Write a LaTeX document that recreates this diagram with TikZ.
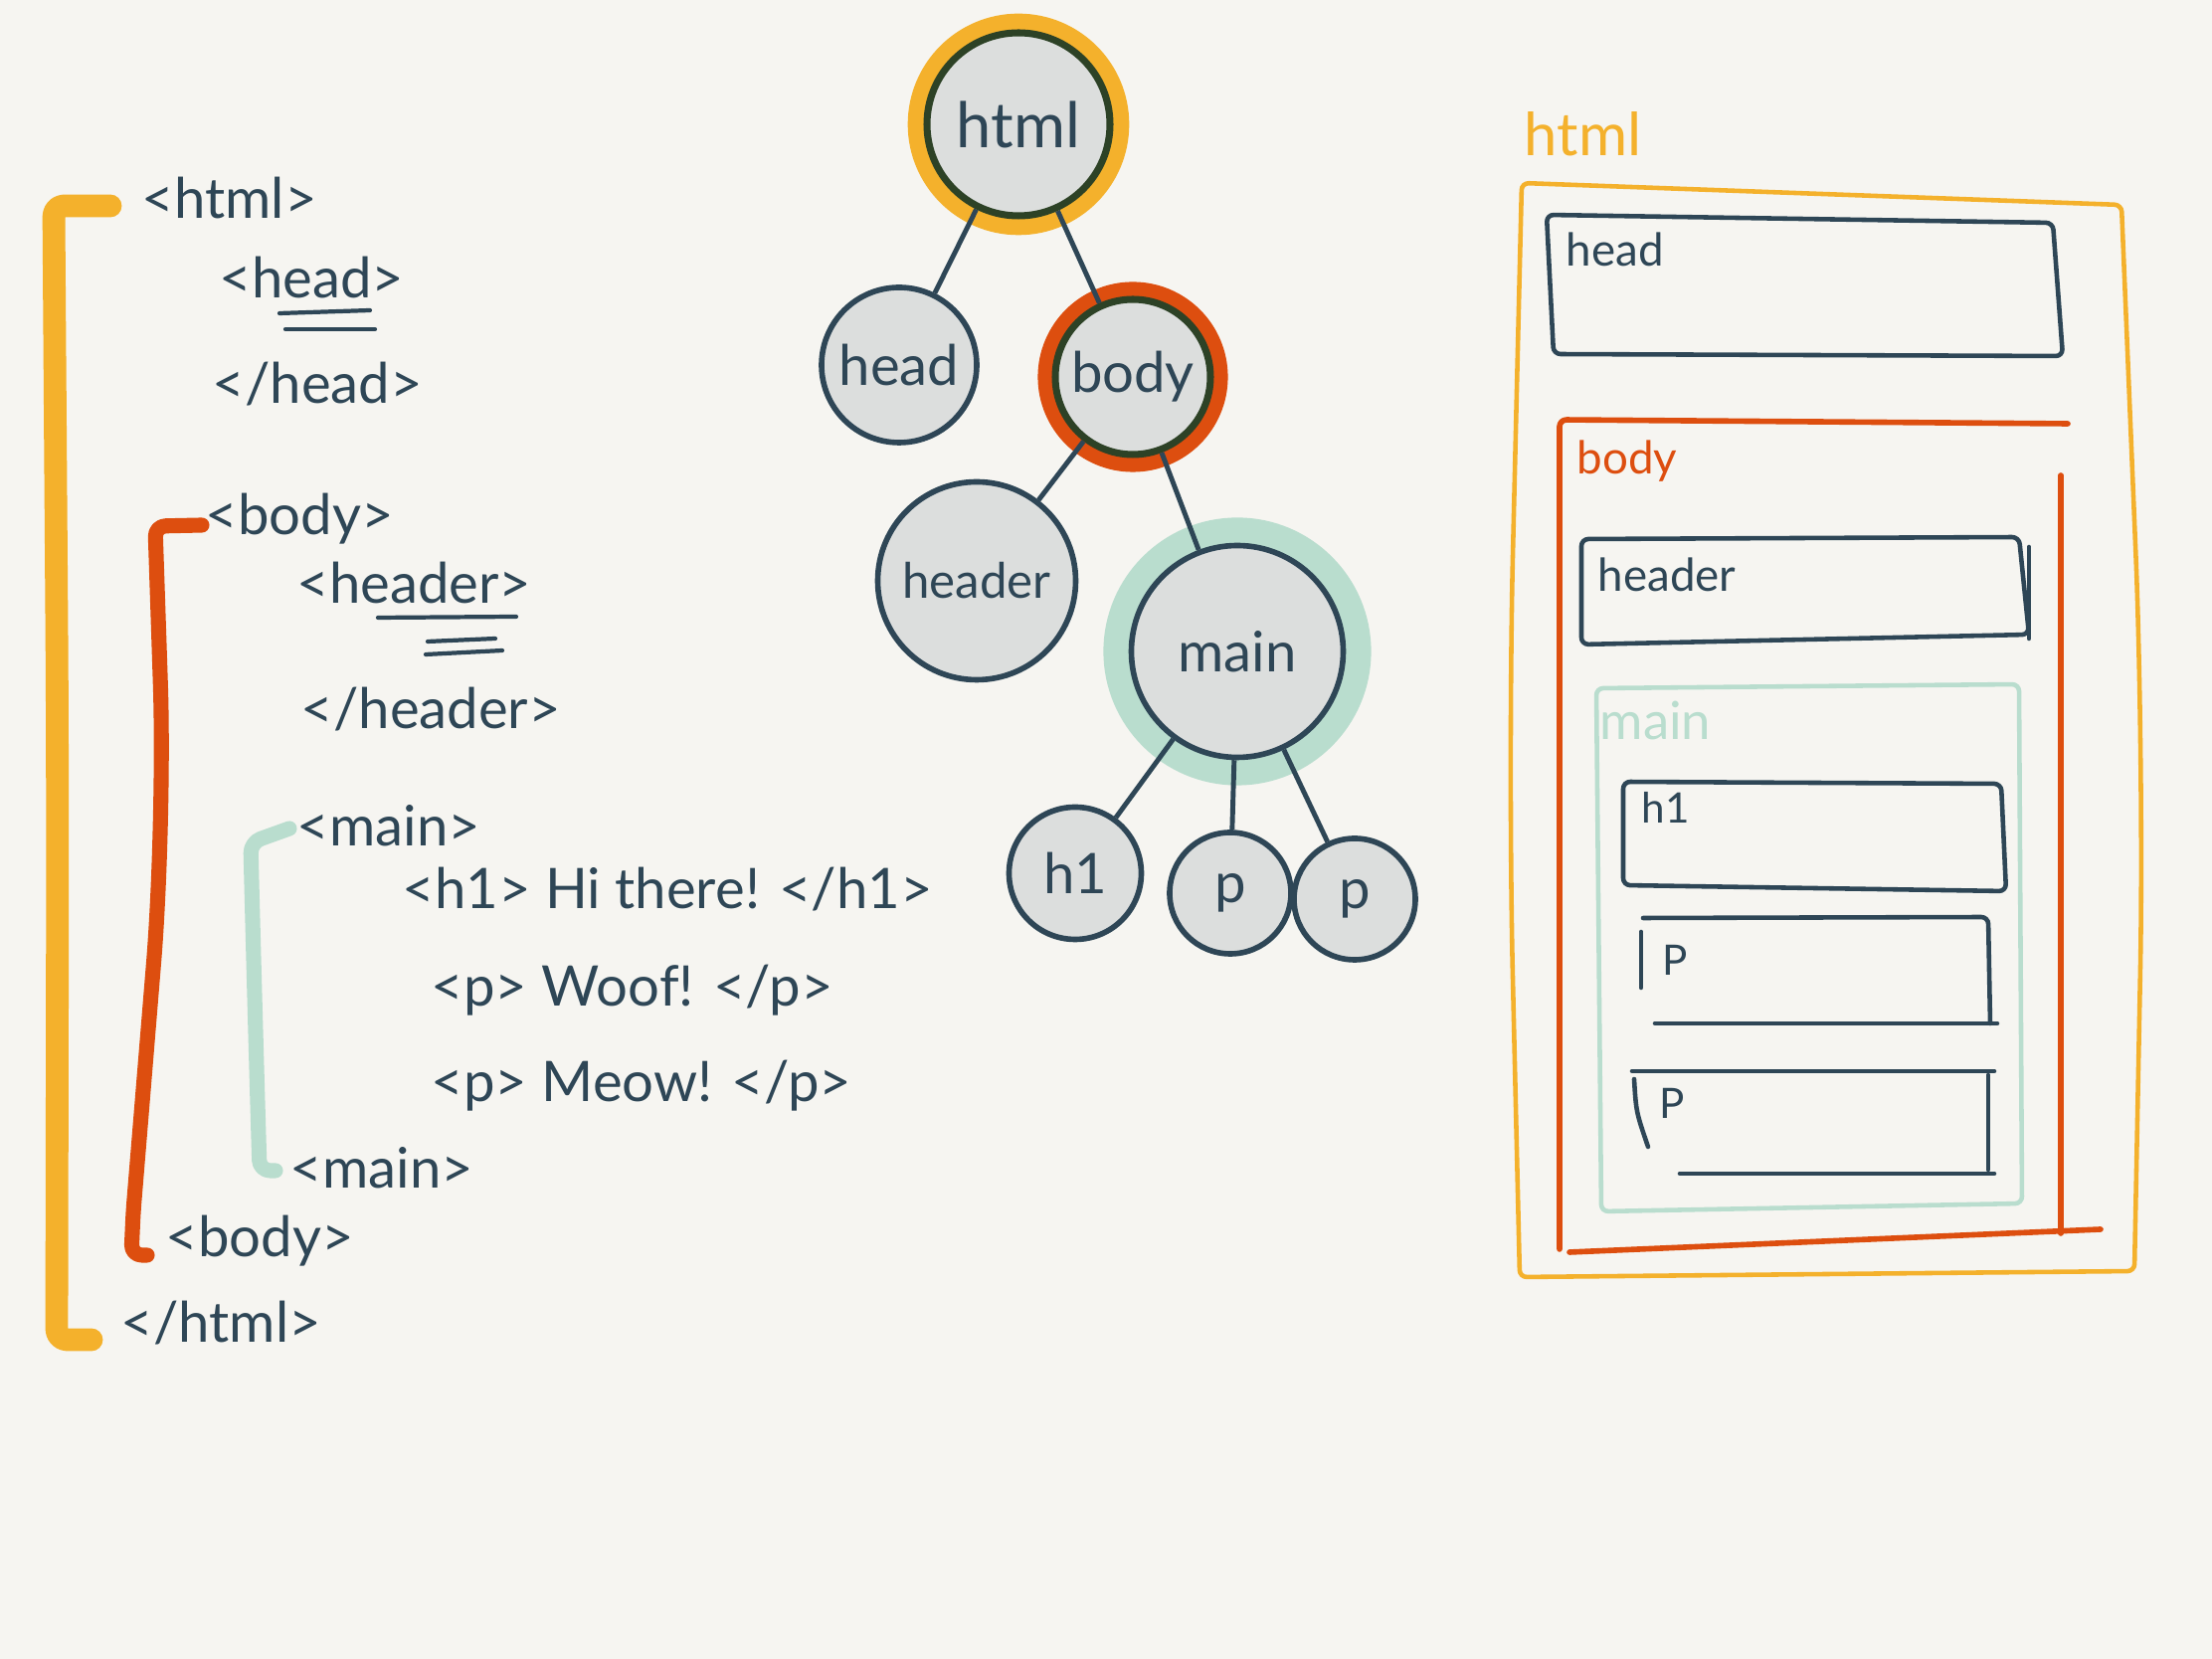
\documentclass[tikz,border=0pt]{standalone}
\usepackage{fontspec}
\setmainfont{Lato}

\definecolor{ink}{HTML}{2E4656}
\definecolor{olive}{HTML}{2D4226}
\definecolor{htmlc}{HTML}{F4B12C}
\definecolor{bodyc}{HTML}{DD4E0F}
\definecolor{mainc}{HTML}{B9DDCE}
\definecolor{tagfill}{HTML}{DCDEDD}
\definecolor{paper}{HTML}{F6F5F1}

\begin{document}
\begin{tikzpicture}[
    code/.style={font=\fontsize{16}{18}\selectfont, text=ink, anchor=west, inner sep=0pt},
    tag/.style={circle, draw=ink, line width=1.6pt, fill=tagfill, text=ink, inner sep=0pt, font=\fontsize{16}{18}\selectfont},
    halo/.style 2 args={preaction={draw=#1, fill=#1, line width=#2}},
    edge/.style={draw=ink, line width=1.4pt},
    bracket/.style={line width=#1, line cap=round, line join=round, rounded corners=3pt},
    uline/.style={ink, line width=1.2pt, line cap=round},
    box/.style={line width=1.3pt, line cap=round, line join=round, rounded corners=2pt},
    boxlbl/.style={font=\fontsize{13}{15}\selectfont, anchor=west, inner sep=0pt},
]

% Page
\useasboundingbox (0,0) rectangle (22.24,16.68);
\fill[paper] (0,0) rectangle (22.24,16.68);

% Brackets
\draw[bracket=6.5pt, htmlc] (1.11,14.61) -- (0.54,14.61) [rounded corners=40pt] -- (0.58,9.00) [rounded corners=3pt] -- (0.57,3.21) -- (0.92,3.21);
\draw[bracket=4.3pt, bodyc] (2.03,11.40) -- (1.56,11.39) [rounded corners=40pt] -- (1.66,8.40) [rounded corners=3pt] -- (1.34,4.50) -- (1.32,4.06) -- (1.48,4.06);
\draw[bracket=4.3pt, mainc] (2.91,8.35) -- (2.52,8.21) [rounded corners=40pt] -- (2.56,6.60) [rounded corners=3pt] -- (2.61,4.91) -- (2.77,4.91);

% Markup
\node[code] (c-html) at (1.42,14.69) {<html>};
\node[code] (c-head) at (2.20,13.89) {<head>};
\node[code] (c-headend) at (2.13,12.82) {</head>};
\node[code] (c-body) at (2.06,11.46) {<body>};
\node[code] (c-header) at (2.98,10.82) {<header>};
\node[code] (c-headerend) at (3.02,9.55) {</header>};
\node[code] (c-main) at (2.98,8.38) {<main>};
\node[code] (c-h1) at (4.04,7.74) {<h1> Hi there! </h1>};
\node[code] (c-woof) at (4.33,6.72) {<p> Woof! </p>};
\node[code] (c-meow) at (4.33,5.76) {<p> Meow! </p>};
\node[code] (c-mainend) at (2.91,4.94) {<main>};
\node[code] (c-bodyend) at (1.66,4.20) {<body>};
\node[code] (c-htmlend) at (1.21,3.38) {</html>};

% Underlines
\draw[uline] (2.81,13.53) -- (3.72,13.56);
\draw[uline] (2.87,13.37) -- (3.77,13.37);
\draw[uline] (3.80,10.47) -- (5.19,10.48);
\draw[uline] (4.30,10.23) -- (4.98,10.26);
\draw[uline] (4.28,10.10) -- (5.05,10.14);

% Tree
\node[tag, halo={htmlc}{11pt}, draw=olive, line width=2pt, minimum size=1.84cm, font=\fontsize{18}{20}\selectfont] (t-html) at (10.24,15.43) {html};
\node[tag, minimum size=1.56cm] (t-head) at (9.04,13.01) {head};
\node[tag, halo={bodyc}{10pt}, draw=olive, line width=2pt, minimum size=1.56cm] (t-body) at (11.39,12.89) {body};
\node[tag, minimum size=1.99cm, font=\fontsize{14}{16}\selectfont] (t-header) at (9.82,10.84) {header};
\node[tag, halo={mainc}{16pt}, minimum size=2.13cm] (t-main) at (12.44,10.13) {main};
\node[tag, minimum size=1.33cm] (t-h1) at (10.81,7.90) {h1};
\node[tag, minimum size=1.22cm] (t-p1) at (12.37,7.70) {p};
\node[tag, minimum size=1.22cm] (t-p2) at (13.62,7.64) {p};

\draw[edge] (t-html) -- (t-head);
\draw[edge] (t-html) -- (t-body);
\draw[edge] (t-body) -- (t-header);
\draw[edge] (t-body) -- (t-main);
\draw[edge] (t-main) -- (t-h1);
\draw[edge] (t-main) -- (t-p1);
\draw[edge] (t-main) -- (t-p2);

% Boxes
\node[boxlbl, text=htmlc, font=\fontsize{17}{19}\selectfont] (b-html) at (15.32,15.33) {html};
\draw[box, htmlc] (15.30,14.84) -- (21.33,14.62) [rounded corners=60pt] -- (21.56,9.00) [rounded corners=2pt] -- (21.46,3.90) -- (15.28,3.84) [rounded corners=60pt] -- (15.16,9.00) [rounded corners=2pt] -- cycle;

\draw[box, ink] (15.55,14.52) -- (20.64,14.44) -- (20.74,13.10) -- (15.62,13.12) -- cycle;
\node[boxlbl, text=ink] (b-head) at (15.74,14.17) {head};

\draw[box, bodyc, line width=1.6pt] (15.68,4.12) -- (15.68,12.46) -- (20.79,12.42);
\draw[box, bodyc, line width=1.6pt] (20.72,11.90) -- (20.72,4.28);
\draw[box, bodyc, line width=1.6pt] (15.78,4.09) -- (21.12,4.32);
\node[boxlbl, text=bodyc] (b-body) at (15.85,12.04) {body};

\draw[box, ink] (15.90,11.26) -- (20.30,11.28) -- (20.40,10.30) -- (15.90,10.20) -- cycle;
\draw[box, ink] (20.40,11.18) -- (20.40,10.26);
\node[boxlbl, text=ink] (b-header) at (16.06,10.90) {header};

\draw[box, mainc] (16.05,9.76) -- (20.30,9.80) -- (20.33,4.58) -- (16.10,4.50) -- cycle;
\node[boxlbl, text=mainc, font=\fontsize{15}{17}\selectfont] (b-main) at (16.08,9.44) {main};

\draw[box, ink] (16.32,8.82) -- (20.12,8.80) -- (20.17,7.72) -- (16.32,7.78) -- cycle;
\node[boxlbl, text=ink, font=\fontsize{12}{14}\selectfont] (b-h1) at (16.50,8.56) {h1};

\draw[box, ink] (16.50,6.75) -- (16.50,7.31);
\draw[box, ink] (16.52,7.45) -- (19.99,7.46) -- (20.01,6.39);
\draw[box, ink] (16.64,6.39) -- (20.08,6.39);
\node[boxlbl, text=ink, font=\fontsize{12}{14}\selectfont] (b-p1) at (16.71,7.03) {P};

\draw[box, ink] (16.41,5.91) -- (20.05,5.91);
\draw[box, ink] (16.43,5.83) .. controls (16.45,5.50) .. (16.57,5.15);
\draw[box, ink] (19.99,5.87) -- (19.99,4.92);
\draw[box, ink] (16.89,4.88) -- (20.05,4.88);
\node[boxlbl, text=ink, font=\fontsize{12}{14}\selectfont] (b-p2) at (16.68,5.59) {P};

\end{tikzpicture}
\end{document}
